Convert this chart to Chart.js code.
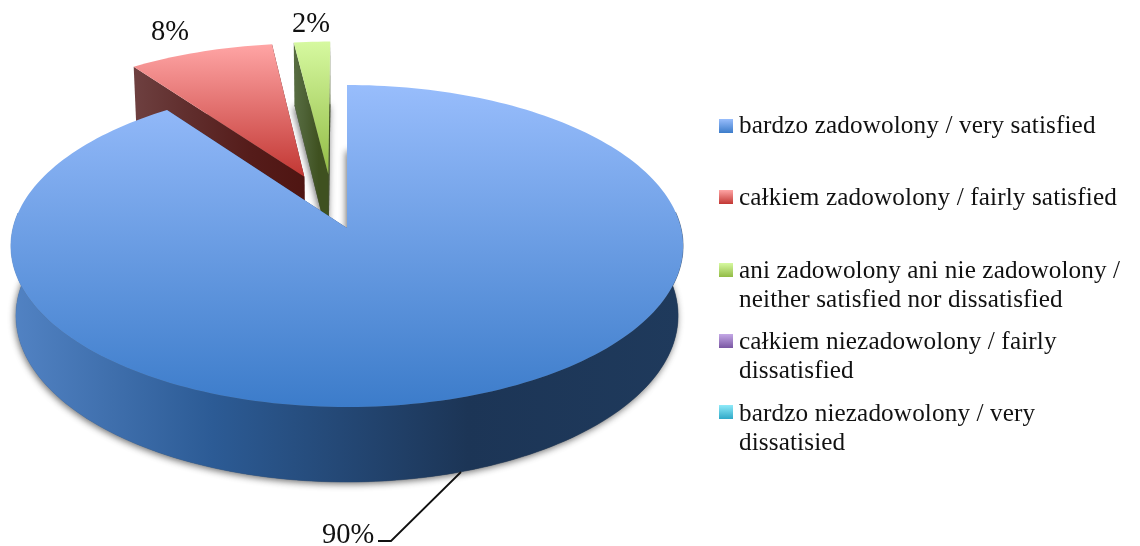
<!DOCTYPE html>
<html>
<head>
<meta charset="utf-8">
<style>
  html, body { margin: 0; padding: 0; background: #fff; }
  #wrap { width: 1140px; height: 546px; }
</style>
<script src="https://cdn.jsdelivr.net/npm/chart.js@4/dist/chart.umd.min.js"></script>
</head>
<body>
<div id="wrap"><canvas id="pie" width="1140" height="546"></canvas></div>
<script>
const categories = [
    ['bardzo zadowolony / very satisfied'],
    ['całkiem zadowolony / fairly satisfied'],
    ['ani zadowolony ani nie zadowolony /', 'neither satisfied nor dissatisfied'],
    ['całkiem niezadowolony / fairly', 'dissatisfied'],
    ['bardzo niezadowolony / very', 'dissatisied']
];
const shares = [90, 8, 2, 0, 0];

// how far each slice is pulled out, as a part of the radius
const explode = [0, 0.36, 0.35, 0, 0];
const nudgeX = [0, 0, -0.036, 0, 0];

const topColors = [['#98bdfc', '#3c7cca'], ['#ffa5a5', '#c23733'], ['#d6f9a0', '#92bb45'], ['#c4a8e6', '#7a57a3'], ['#8feaf9', '#2fa9c8']];
const wallColors = [
    ['#5283c4', '#2c5b95', '#1c3556', '#1f3a5c'],
    ['#6e4040', '#612f2e', '#551c1a', '#4f1512'],
    ['#586d42', '#4e6236', '#3f5120', '#3f5120']
];

// camera for the tilted pie, m shrinks the underside a little
const view = { cx: 347, cy: 228, a: 334, b: 159, c: 70.4, k: 0.1118, m: 0.015 };

function project(x, y, z) {
    const w = 1 - view.k * y + view.m * z;
    return [view.cx + view.a * x / w, view.cy + (view.b * y + view.c * z) / w];
}

function slicePoints(el, i) {
    const { startAngle, endAngle } = el.getProps(['startAngle', 'endAngle'], true);
    const mid = (startAngle + endAngle) / 2;
    const ox = Math.cos(mid) * explode[i] + nudgeX[i];
    const oy = Math.sin(mid) * explode[i];
    const rim = [];
    const front = [];
    const steps = Math.max(2, Math.ceil((endAngle - startAngle) * 40));
    for (let s = 0; s <= steps; s++) {
        const t = startAngle + (endAngle - startAngle) * s / steps;
        const p = [ox + Math.cos(t), oy + Math.sin(t)];
        rim.push(p);
        // only the part of the rim that faces the viewer gets a wall
        if (Math.sin(t) > -view.k) front.push(p);
    }
    return { hub: [ox, oy], rim, front };
}

function tracePath(ctx, pts) {
    ctx.beginPath();
    pts.forEach((p, n) => n ? ctx.lineTo(p[0], p[1]) : ctx.moveTo(p[0], p[1]));
    ctx.closePath();
}

function wallGradient(ctx, colors, x0, x1) {
    const g = ctx.createLinearGradient(x0, 0, x1, 0);
    g.addColorStop(0, colors[0]);
    g.addColorStop(0.3, colors[1]);
    g.addColorStop(0.68, colors[2]);
    g.addColorStop(1, colors[3]);
    return g;
}

function drawSlice(ctx, el, i) {
    const { hub, rim, front } = slicePoints(el, i);
    const top = [hub, ...rim].map(p => project(p[0], p[1], 0));
    const bottom = [hub, ...rim].map(p => project(p[0], p[1], 1));
    const xs = top.concat(bottom).map(p => p[0]);
    const ys = top.map(p => p[1]);
    const x0 = Math.min(...xs), x1 = Math.max(...xs);

    // soft shadow on the floor
    ctx.save();
    ctx.shadowColor = 'rgba(60,60,60,0.75)';
    ctx.shadowBlur = 7;
    ctx.shadowOffsetX = -1;
    ctx.shadowOffsetY = 2;
    ctx.fillStyle = '#555';
    tracePath(ctx, bottom);
    ctx.fill();
    ctx.restore();

    const wall = wallGradient(ctx, wallColors[i], x0, x1);
    ctx.fillStyle = wall;
    ctx.strokeStyle = wall;
    ctx.lineWidth = 0.5;
    // the two cut faces, then the outer face
    const last = top.length - 1;
    [[0, 1], [0, last]].forEach(([p, q]) => {
        tracePath(ctx, [top[p], top[q], bottom[q], bottom[p]]);
        ctx.fill();
    });
    if (front.length > 1) {
        const upper = front.map(p => project(p[0], p[1], 0));
        const lower = front.map(p => project(p[0], p[1], 1));
        tracePath(ctx, upper.concat(lower.reverse()));
        ctx.fill();
        ctx.stroke();
    }

    const face = ctx.createLinearGradient(0, Math.min(...ys), 0, Math.max(...ys));
    face.addColorStop(0, topColors[i][0]);
    face.addColorStop(1, topColors[i][1]);
    ctx.fillStyle = face;
    tracePath(ctx, top);
    ctx.fill();
}

const pie3d = {
    id: 'pie3d',
    beforeDatasetsDraw(chart) {
        const ctx = chart.ctx;
        const arcs = chart.getDatasetMeta(0).data;
        // back slices first so the big one covers them
        [2, 1, 0].forEach(i => drawSlice(ctx, arcs[i], i));
        return false;
    },
    afterDraw(chart) {
        const ctx = chart.ctx;
        ctx.save();
        ctx.fillStyle = '#111';
        ctx.textBaseline = 'alphabetic';
        ctx.textAlign = 'left';

        // percent labels
        ctx.font = '28.5px "Liberation Serif"';
        ctx.fillText(shares[1] + '%', 151, 40);
        ctx.fillText(shares[2] + '%', 292, 32);
        ctx.fillText(shares[0] + '%', 322, 543);

        ctx.strokeStyle = '#111';
        ctx.lineWidth = 1.8;
        ctx.beginPath();
        ctx.moveTo(378, 541);
        ctx.lineTo(391, 541);
        ctx.lineTo(461, 472);
        ctx.stroke();

        // legend
        const rows = [[133, 119], [205, 190], [278, 263], [349, 334], [421, 405]];
        ctx.font = '25.2px "Liberation Serif"';
        ctx.letterSpacing = '0.12px';
        categories.forEach((lines, i) => {
            const g = ctx.createLinearGradient(0, rows[i][1], 0, rows[i][1] + 14);
            g.addColorStop(0, topColors[i][0]);
            g.addColorStop(1, topColors[i][1]);
            ctx.fillStyle = g;
            ctx.fillRect(719, rows[i][1], 14, 14);
            ctx.fillStyle = '#111';
            lines.forEach((line, n) => ctx.fillText(line, 739, rows[i][0] + n * 28.5));
        });
        ctx.restore();
    }
};

new Chart(document.getElementById('pie'), {
    type: 'pie',
    data: {
        labels: categories,
        datasets: [{
            data: shares,
            backgroundColor: topColors.map(c => c[0]),
            borderWidth: 0
        }]
    },
    options: {
        responsive: false,
        animation: false,
        plugins: {
            legend: { display: false },
            tooltip: { enabled: false }
        }
    },
    plugins: [pie3d]
});
</script>
</body>
</html>
